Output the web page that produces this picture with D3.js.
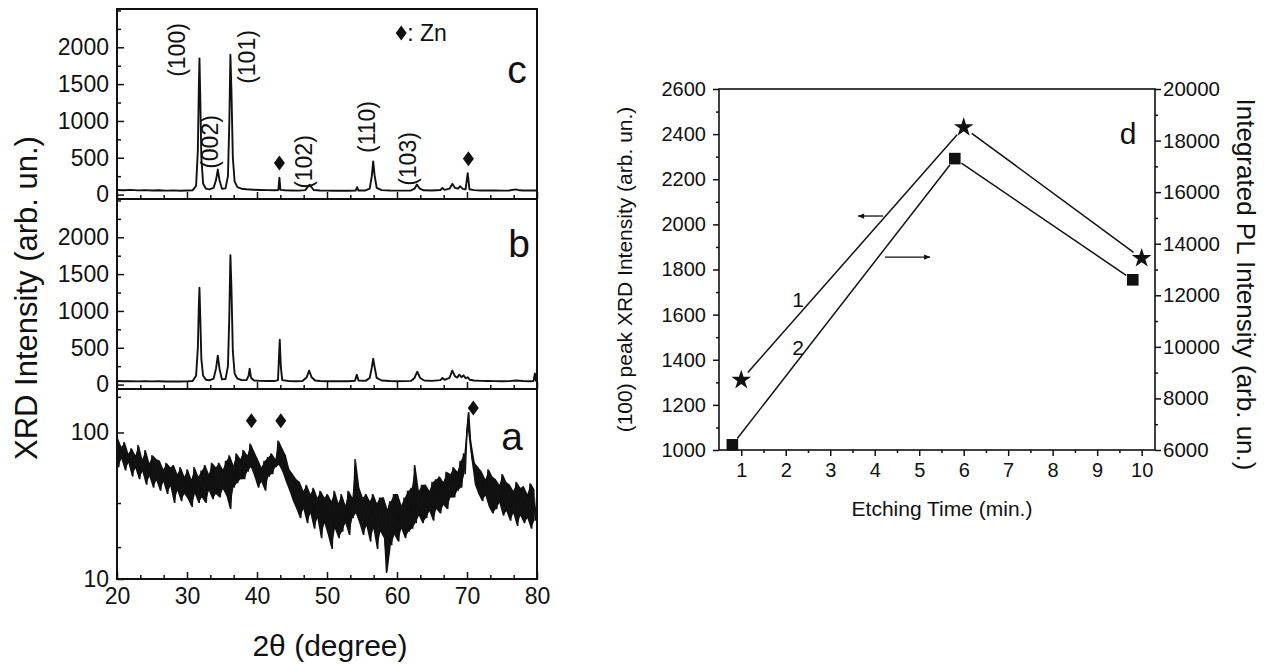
<!DOCTYPE html>
<html>
<head>
<meta charset="utf-8">
<script src="https://cdn.jsdelivr.net/npm/d3@7"></script>
<style>
  body { margin: 0; background: #fff; }
  svg { display: block; }
  text { font-family: "Liberation Sans", Arial, sans-serif; fill: #111; }
</style>
</head>
<body>
<svg id="chart" width="1268" height="665"></svg>
<script>
// ---------- data ----------

// panel c: ZnO film after longest etch, [2theta, intensity]
const traceC = [
  [20,62],[21,58],[22,64],[23,57],[24,60],[25,55],[26,58],[27,54],[28,57],[29,53],[30,56],
  [30.8,58],[31.3,120],[31.55,600],[31.7,1500],[31.78,1850],[31.9,1300],[32.05,500],[32.3,150],
  [32.7,80],[33.2,70],[33.8,90],[34.15,200],[34.4,340],[34.65,190],[35.0,80],[35.5,85],
  [35.85,250],[36.05,1000],[36.2,1900],[36.35,1400],[36.55,500],[36.8,180],[37.2,100],
  [37.8,80],[38.5,72],[39.5,66],[40.5,62],[41.5,60],[42.5,58],[43.05,62],[43.2,230],[43.35,64],
  [44,58],[45,56],[46,54],[46.9,60],[47.3,110],[47.5,135],[47.7,110],[48.1,62],[49,56],[50,54],
  [51,53],[52,52],[53,52],[54.1,54],[54.3,100],[54.5,55],[55.5,56],[56.1,80],[56.4,250],
  [56.6,450],[56.8,260],[57.1,90],[57.8,60],[59,55],[60,54],[61,54],[62,56],[62.5,80],
  [62.85,137],[63.2,85],[63.8,58],[65,56],[66.2,62],[66.5,90],[66.8,64],[67.5,80],[67.9,145],
  [68.3,90],[68.7,80],[69.0,112],[69.4,78],[69.8,70],[70.1,290],[70.35,72],[71,60],[72,56],
  [73,55],[74,55],[75,54],[76,56],[77,70],[77.5,58],[78,55],[79,56],[80,55]
]

// panel b
const traceB = [
  [20,48],[21,45],[22,47],[23,44],[24,46],[25,43],[26,45],[27,42],[28,44],[29,42],[30,44],
  [30.8,48],[31.3,120],[31.55,500],[31.7,1100],[31.78,1315],[31.9,900],[32.05,350],[32.3,120],
  [32.7,65],[33.2,58],[33.8,80],[34.15,220],[34.4,392],[34.65,210],[35.0,70],[35.5,75],
  [35.85,250],[36.05,950],[36.2,1757],[36.35,1300],[36.55,450],[36.8,150],[37.2,80],[37.8,62],
  [38.5,60],[38.8,120],[38.95,216],[39.15,90],[39.6,55],[40.5,50],[41.5,48],[42.5,48],
  [43.0,60],[43.15,400],[43.25,608],[43.4,250],[43.6,60],[44.5,48],[45.5,46],[46.5,48],
  [47.1,100],[47.45,189],[47.8,100],[48.3,55],[49,48],[50,46],[51,45],[52,45],[53,46],
  [54.0,52],[54.25,135],[54.5,55],[55.5,50],[56.1,90],[56.4,230],[56.6,351],[56.8,240],
  [57.1,90],[57.8,55],[59,48],[60,46],[61,47],[62,50],[62.5,90],[62.9,176],[63.3,90],[63.9,55],
  [65,50],[66.2,60],[66.5,90],[66.8,65],[67.5,90],[67.9,190],[68.3,110],[68.6,95],[68.9,135],
  [69.2,100],[69.5,125],[69.8,85],[70.1,100],[70.4,65],[71,55],[72,50],[73,48],[74,47],
  [75,46],[76,47],[77,55],[78,48],[79,46],[79.5,48],[79.7,150],[79.85,50],[80,48]
]

// panel a: noisy scan, one value every 0.25 deg from 20 deg (one row = 2 deg)
const traceAStart = 20
const traceAStep = 0.25
const traceA = [
  92,58,80,66,86,55,72,62,
  78,50,70,57,82,48,66,54,
  76,44,62,50,70,42,66,47,
  64,40,56,46,62,38,58,43,
  60,33,52,40,58,34,50,38,
  56,35,48,31,58,38,50,33,
  55,36,60,33,52,40,62,35,
  58,38,62,36,56,41,64,37,
  70,30,60,42,72,45,66,48,
  76,48,70,54,84,58,74,50,
  66,42,58,46,64,40,68,50,
  72,52,66,58,88,60,78,54,
  70,46,56,40,52,34,48,30,
  46,26,40,30,44,24,38,28,
  42,22,36,26,40,19,36,24,
  38,20,34,16,40,22,33,19,
  38,21,32,24,40,20,36,26,
  66,28,42,24,36,20,38,23,
  34,18,38,22,33,16,36,21,
  36,19,11,30,34,17,38,20,
  38,18,32,22,36,19,40,21,
  42,22,60,24,40,27,44,24,
  44,26,40,29,46,25,48,30,
  50,28,46,32,54,30,52,36,
  58,36,54,40,64,42,72,52,
  104,138,86,66,62,44,58,38,
  54,34,48,37,56,31,50,28,
  48,30,44,33,52,27,46,29,
  44,25,40,28,46,23,42,27,
  43,24,38,26,45,22,41,25,
  40
]

const millerC = [
  ["(100)", 28.57, 1963], ["(002)", 33.29, 714], ["(101)", 38.57, 1868],
  ["(102)", 46.71, 442], ["(110)", 55.71, 918], ["(103)", 61.57, 483]
]
const znMarksC = [[43.2, 430], [70.2, 485]]
const znMarksA = [[39.2, 120], [43.4, 120], [70.9, 147]]
const znLegend = [60.6, 2194]

// panel d
const etchXrd = [[1, 1310], [6, 2430], [10, 1850]]      // stars, left axis
const etchPL = [[0.8, 6200], [5.8, 17300], [9.8, 12600]] // squares, right axis

const xTicksL = [20, 30, 40, 50, 60, 70, 80]
const xMinorL = [23.33, 26.67, 33.33, 36.67, 43.33, 46.67, 53.33, 56.67, 63.33, 66.67, 73.33, 76.67]
const yTicksCB = [0, 500, 1000, 1500, 2000]
const yMinorCB = [250, 750, 1250, 1750, 2250, 2500]
const yTicksA = [10, 100]
const yMinorA = [16.5, 33, 175]
const xTicksD = [1, 2, 3, 4, 5, 6, 7, 8, 9, 10]
const xMinorD = [1.5, 2.5, 3.5, 4.5, 5.5, 6.5, 7.5, 8.5, 9.5]
const yTicksDL = [1000, 1200, 1400, 1600, 1800, 2000, 2200, 2400, 2600]
const yMinorDL = [1100, 1300, 1500, 1700, 1900, 2100, 2300, 2500]
const yTicksDR = [6000, 8000, 10000, 12000, 14000, 16000, 18000, 20000]
const yMinorDR = [7000, 9000, 11000, 13000, 15000, 17000, 19000]

// ---------- drawing ----------
const svg = d3.select("#chart")
const ink = "#111"

const L = {left: 117, right: 537, tops: [9, 199, 389], h: 190}
const x = d3.scaleLinear().domain([20, 80]).range([L.left, L.right])

const styleAxis = (g, size) => {
  g.select(".domain").remove()
  g.selectAll("line").attr("stroke", ink).attr("stroke-width", 1.5)
  g.selectAll("text").attr("font-size", size).attr("fill", ink)
}

const addTicks = (g, axisFn, scale, major, minor, opts) => {
  g.append("g")
    .call(axisFn(scale).tickValues(major).tickSize(opts.major).tickPadding(opts.pad)
      .tickFormat(opts.fmt || d3.format("d")))
    .call((gg) => styleAxis(gg, opts.font))
  g.append("g")
    .call(axisFn(scale).tickValues(minor).tickSize(opts.minor).tickFormat(""))
    .call((gg) => styleAxis(gg, opts.font))
}

const diamond = (gg, px, py) => {
  gg.append("path")
    .attr("d", "M0,-7.5L5.5,0L0,7.5L-5.5,0Z")
    .attr("transform", `translate(${px},${py})`)
    .attr("fill", ink)
}

// panels c, b (linear) and a (log)
const panels = [
  {key: "c", top: L.tops[0], data: traceC},
  {key: "b", top: L.tops[1], data: traceB},
  {key: "a", top: L.tops[2], data: traceA.map((v, i) => [traceAStart + i * traceAStep, v])},
]

panels.forEach((p) => {
  const g = svg.append("g")
  const bottom = p.top + L.h
  const y = p.key === "a"
    ? d3.scaleLog().domain([10, 198]).range([bottom, p.top])
    : d3.scaleLinear().domain([-60, 2520]).range([bottom, p.top])

  const clipId = "clip-" + p.key
  svg.append("clipPath").attr("id", clipId)
    .append("rect").attr("x", L.left).attr("y", p.top).attr("width", L.right - L.left).attr("height", L.h)

  if (p.key === "a") {
    // fill the band spanned by each high/low pair so the noisy scan reads as solid
    const pairs = d3.range(0, traceA.length - 1, 2).map((i) => ({
      t: traceAStart + (i + 0.5) * traceAStep,
      lo: Math.min(traceA[i], traceA[i + 1]),
      hi: Math.max(traceA[i], traceA[i + 1]),
    }))
    g.append("path")
      .datum(pairs)
      .attr("clip-path", `url(#${clipId})`)
      .attr("fill", ink)
      .attr("d", d3.area().x((d) => x(d.t)).y0((d) => y(d.lo)).y1((d) => y(d.hi)))
  }

  g.append("path")
    .datum(p.data)
    .attr("clip-path", `url(#${clipId})`)
    .attr("fill", "none")
    .attr("stroke", ink)
    .attr("stroke-width", p.key === "a" ? 1.4 : 1.9)
    .attr("stroke-linejoin", p.key === "a" ? "miter" : "round")
    .attr("d", d3.line().x((d) => x(d[0])).y((d) => y(d[1])))

  // left axis, inward ticks
  const ga = g.append("g").attr("transform", `translate(${L.left},0)`)
  addTicks(ga, d3.axisLeft, y, p.key === "a" ? yTicksA : yTicksCB, p.key === "a" ? yMinorA : yMinorCB,
    {major: -7, minor: -4, pad: 8, font: 23})

  // bottom axis, inward ticks; labels only on the lowest panel
  const gb = g.append("g").attr("transform", `translate(0,${bottom})`)
  addTicks(gb, d3.axisBottom, x, xTicksL, xMinorL, {
    major: -7, minor: -4, pad: 9, font: 23,
    fmt: p.key === "a" ? d3.format("d") : () => "",
  })

  g.append("rect")
    .attr("x", L.left).attr("y", p.top)
    .attr("width", L.right - L.left).attr("height", L.h)
    .attr("fill", "none").attr("stroke", ink).attr("stroke-width", 2)

  const letterPos = {c: [517, p.top + 60], b: [519, p.top + 44], a: [512, p.top + 47]}[p.key]
  g.append("text")
    .attr("x", letterPos[0]).attr("y", letterPos[1])
    .attr("text-anchor", "middle").attr("dominant-baseline", "central")
    .attr("font-size", 39)
    .text(p.key)

  if (p.key === "c") {
    millerC.forEach(([t, mx, my]) => {
      g.append("text")
        .attr("transform", `translate(${x(mx)},${y(my)}) rotate(-90)`)
        .attr("text-anchor", "middle").attr("dominant-baseline", "central")
        .attr("font-size", 23)
        .text(t)
    })
    znMarksC.forEach(([mx, my]) => diamond(g, x(mx), y(my)))
    diamond(g, x(znLegend[0]), y(znLegend[1]))
    g.append("text")
      .attr("x", x(znLegend[0]) + 6).attr("y", y(znLegend[1]))
      .attr("dominant-baseline", "central")
      .attr("font-size", 23)
      .text(": Zn")
  }
  if (p.key === "a") {
    znMarksA.forEach(([mx, my]) => diamond(g, x(mx), y(my)))
  }
})

svg.append("text")
  .attr("transform", `translate(26,${(L.tops[0] + L.tops[2] + L.h) / 2 + 4}) rotate(-90)`)
  .attr("text-anchor", "middle").attr("dominant-baseline", "central")
  .attr("font-size", 31)
  .text("XRD Intensity (arb. un.)")

svg.append("text")
  .attr("x", 330).attr("y", 645)
  .attr("text-anchor", "middle").attr("dominant-baseline", "central")
  .attr("font-size", 30)
  .text("2\u03B8 (degree)")

// ---------- panel d ----------
const D = {left: 719, right: 1155, top: 89, bottom: 450}
const xd = d3.scaleLinear().domain([0.5, 10.3]).range([D.left, D.right])
const yl = d3.scaleLinear().domain([1000, 2600]).range([D.bottom, D.top])
const yr = d3.scaleLinear().domain([6000, 20000]).range([D.bottom, D.top])

const gd = svg.append("g")

gd.append("rect")
  .attr("x", D.left).attr("y", D.top)
  .attr("width", D.right - D.left).attr("height", D.bottom - D.top)
  .attr("fill", "none").attr("stroke", ink).attr("stroke-width", 1.6)

addTicks(gd.append("g").attr("transform", `translate(0,${D.bottom})`), d3.axisBottom, xd,
  xTicksD, xMinorD, {major: 6, minor: 3, pad: 7, font: 20})
addTicks(gd.append("g").attr("transform", `translate(${D.left},0)`), d3.axisLeft, yl,
  yTicksDL, yMinorDL, {major: 6, minor: 3, pad: 7, font: 20})
addTicks(gd.append("g").attr("transform", `translate(${D.right},0)`), d3.axisRight, yr,
  yTicksDR, yMinorDR, {major: 6, minor: 3, pad: 2, font: 20.5})

// connecting lines stop short of the markers
const gapLine = (data, ys, gap) => {
  for (let i = 0; i < data.length - 1; i++) {
    const x1 = xd(data[i][0]), y1 = ys(data[i][1])
    const x2 = xd(data[i + 1][0]), y2 = ys(data[i + 1][1])
    const len = Math.hypot(x2 - x1, y2 - y1)
    const ux = (x2 - x1) / len, uy = (y2 - y1) / len
    gd.append("line")
      .attr("x1", x1 + ux * gap).attr("y1", y1 + uy * gap)
      .attr("x2", x2 - ux * gap).attr("y2", y2 - uy * gap)
      .attr("stroke", ink).attr("stroke-width", 1.5)
  }
}
gapLine(etchXrd, yl, 10)
gapLine(etchPL, yr, 8)

gd.selectAll("path.star")
  .data(etchXrd)
  .join("path")
  .attr("class", "star")
  .attr("d", d3.symbol(d3.symbolStar, 120))
  .attr("transform", (d) => `translate(${xd(d[0])},${yl(d[1])})`)
  .attr("fill", ink)

gd.selectAll("path.sq")
  .data(etchPL)
  .join("path")
  .attr("class", "sq")
  .attr("d", d3.symbol(d3.symbolSquare, 135))
  .attr("transform", (d) => `translate(${xd(d[0])},${yr(d[1])})`)
  .attr("fill", ink)

// arrows pointing to each series' axis
const defs = svg.append("defs")
defs.append("marker")
  .attr("id", "ah").attr("viewBox", "0 0 10 10").attr("refX", 9).attr("refY", 5)
  .attr("markerWidth", 7).attr("markerHeight", 5).attr("orient", "auto")
  .append("path").attr("d", "M0,1L10,5L0,9Z").attr("fill", ink)

gd.append("line")
  .attr("x1", xd(4.19)).attr("y1", yl(2037)).attr("x2", xd(3.63)).attr("y2", yl(2037))
  .attr("stroke", ink).attr("stroke-width", 1.3).attr("marker-end", "url(#ah)")
gd.append("line")
  .attr("x1", xd(4.23)).attr("y1", yr(13480)).attr("x2", xd(5.24)).attr("y2", yr(13480))
  .attr("stroke", ink).attr("stroke-width", 1.3).attr("marker-end", "url(#ah)")

gd.append("text").attr("x", xd(2.28)).attr("y", yl(1665))
  .attr("text-anchor", "middle").attr("dominant-baseline", "central").attr("font-size", 21).text("1")
gd.append("text").attr("x", xd(2.28)).attr("y", yl(1456))
  .attr("text-anchor", "middle").attr("dominant-baseline", "central").attr("font-size", 21).text("2")
gd.append("text").attr("x", 1128).attr("y", 133)
  .attr("text-anchor", "middle").attr("dominant-baseline", "central").attr("font-size", 30).text("d")

gd.append("text")
  .attr("x", (D.left + D.right) / 2 + 5).attr("y", 508)
  .attr("text-anchor", "middle").attr("dominant-baseline", "central")
  .attr("font-size", 21)
  .text("Etching Time (min.)")

gd.append("text")
  .attr("transform", `translate(624,${(D.top + D.bottom) / 2}) rotate(-90)`)
  .attr("text-anchor", "middle").attr("dominant-baseline", "central")
  .attr("font-size", 21)
  .text("(100) peak XRD Intensity (arb. un.)")

gd.append("text")
  .attr("transform", `translate(1246,${(D.top + D.bottom) / 2 + 15}) rotate(90)`)
  .attr("text-anchor", "middle").attr("dominant-baseline", "central")
  .attr("font-size", 26)
  .text("Integrated PL Intensity (arb. un.)")
</script>
</body>
</html>
